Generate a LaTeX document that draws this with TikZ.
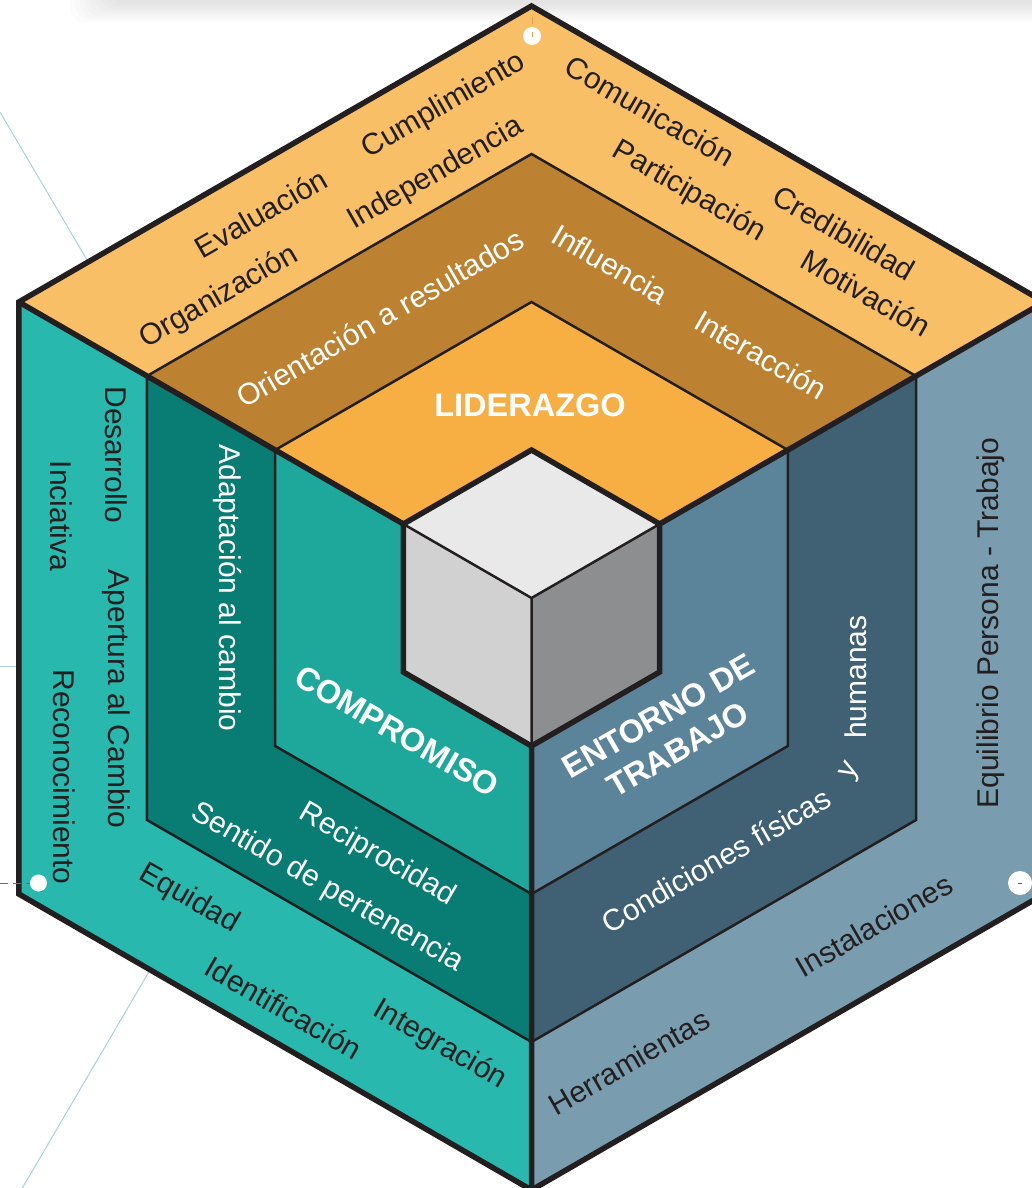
\documentclass[tikz,border=0pt]{standalone}
\usepackage{fontspec}
\setmainfont{Liberation Sans}
\definecolor{ink}{HTML}{231F20}
\definecolor{topA}{HTML}{F9BF67}
\definecolor{topB}{HTML}{BC8232}
\definecolor{topC}{HTML}{F7AE42}
\definecolor{topD}{HTML}{E9E9E9}
\definecolor{leftA}{HTML}{29B8AE}
\definecolor{leftB}{HTML}{097C73}
\definecolor{leftC}{HTML}{1EA89B}
\definecolor{leftD}{HTML}{D1D1D1}
\definecolor{rightA}{HTML}{799DAE}
\definecolor{rightB}{HTML}{406174}
\definecolor{rightC}{HTML}{5B8399}
\definecolor{rightD}{HTML}{8D8E90}
\definecolor{guide}{HTML}{A6D3DF}
\definecolor{dashc}{HTML}{2A8C88}
\definecolor{tick}{HTML}{D9A55A}
\begin{document}
\begin{tikzpicture}[x=1pt,y=-1pt,
  thickln/.style={draw=ink, line width=5.5pt},
  thinln/.style={draw=ink, line width=2.5pt},
  lbl/.style={font=\fontsize{30}{36}\selectfont, text=ink, inner sep=0pt},
  wlbl/.style={lbl, text=white},
  big/.style={font=\fontsize{32.5}{39}\selectfont\bfseries, text=white, inner sep=0pt, align=center},
  dotc/.style={fill=white, draw=none},
  shadowlayer/.style={fill=black, fill opacity=0.011, draw=none, rounded corners=14pt},
  guideline/.style={draw=guide, line width=1pt}]
\useasboundingbox (0,0) rectangle (1032,1188);
\clip (0,0) rectangle (1032,1188);
% soft top shadow
\foreach \i in {0,...,8} {
  \fill[shadowlayer] (70+5*\i,-30) rectangle (1100,22-2.2*\i);
}
% vertices
\coordinate (C) at (531.5,598);
\foreach \k in {1,2,3,4} {
  \pgfmathsetmacro\myL{148*\k}
  \pgfmathsetmacro\myW{128.17*\k}
  \coordinate (T\k) at (531.5,598-\myL);
  \coordinate (UL\k) at (531.5-\myW,598-\myL/2);
  \coordinate (LL\k) at (531.5-\myW,598+\myL/2);
  \coordinate (B\k) at (531.5,598+\myL);
  \coordinate (UR\k) at (531.5+\myW,598-\myL/2);
  \coordinate (LR\k) at (531.5+\myW,598+\myL/2);
}
% guide lines under the figure
\coordinate (g1a) at (0,112); \coordinate (g1b) at (90,265);
\coordinate (g2a) at (0,666); \coordinate (g2b) at (20,666);
\coordinate (g3a) at (150,970); \coordinate (g3b) at (20,1192);
\draw[guideline] (g1a) -- (g1b);
\draw[guideline] (g2a) -- (g2b);
\draw[guideline] (g3a) -- (g3b);
% faces
\foreach \k/\ct/\cl/\cr in {4/topA/leftA/rightA,3/topB/leftB/rightB,2/topC/leftC/rightC,1/topD/leftD/rightD} {
  \fill[\ct] (T\k) -- (UL\k) -- (C) -- (UR\k) -- cycle;
  \fill[\cl] (UL\k) -- (C) -- (B\k) -- (LL\k) -- cycle;
  \fill[\cr] (C) -- (UR\k) -- (LR\k) -- (B\k) -- cycle;
}
% thin lines
\draw[thinln] (UL3) -- (T3) -- (UR3) -- (LR3) -- (B3) -- (LL3) -- cycle;
\draw[thinln] (UL2) -- (T2) -- (UR2) -- (LR2) -- (B2) -- (LL2) -- cycle;
\draw[thinln] (UL1) -- (C) -- (UR1) (C) -- (B1);
% thick lines
\draw[thickln] (UL4) -- (UL1) (UR4) -- (UR1) (B4) -- (B1);
\draw[thickln] (T1) -- (UR1) -- (LR1) -- (B1) -- (LL1) -- (UL1) -- cycle;
\draw[thickln] (T4) -- (UR4) -- (LR4) -- (B4) -- (LL4) -- (UL4) -- cycle;
% top face texts
\node[lbl, rotate=30] (evaluacion) at (261,213) {Evaluación};
\node[lbl, rotate=30] (cumplimiento) at (444,106) {Cumplimiento};
\node[lbl, rotate=30] (organizacion) at (219,297) {Organización};
\node[lbl, rotate=30] (independencia) at (436,174) {Independencia};
\node[wlbl, rotate=30] (orientacion) at (380,318) {Orientación a resultados};
\node[lbl, rotate=-30] (comunicacion) at (650,111) {Comunicación};
\node[lbl, rotate=-30] (participacion) at (689,192) {Participación};
\node[lbl, rotate=-30] (credibilidad) at (844,233) {Credibilidad};
\node[lbl, rotate=-30] (motivacion) at (866,293) {Motivación};
\node[wlbl, rotate=-30] (influencia) at (610,264) {Influencia};
\node[wlbl, rotate=-30] (interaccion) at (761,355) {Interacción};
\node[big] (liderazgo) at (530,405) {LIDERAZGO};
% left face texts
\node[lbl, rotate=-90] (desarrollo) at (116,455) {Desarrollo};
\node[lbl, rotate=-90] (inciativa) at (61.5,516) {Inciativa};
\node[lbl, rotate=-90] (apertura) at (116,699) {Apertura al Cambio};
\node[lbl, rotate=-90] (reconocimiento) at (64,777) {Reconocimiento};
\node[wlbl, rotate=-90] (adaptacion) at (227,588) {Adaptación al cambio};
\node[big, rotate=-30] (compromiso) at (397,731) {COMPROMISO};
\node[wlbl, rotate=-30] (reciprocidad) at (377,855) {Reciprocidad};
\node[wlbl, rotate=-30] (sentido) at (327,888) {Sentido de pertenencia};
\node[lbl, rotate=-30] (equidad) at (189,899) {Equidad};
\node[lbl, rotate=-30] (identificacion) at (284,1008) {Identificación};
\node[lbl, rotate=-30] (integracion) at (440,1045) {Integración};
% right face texts
\node[big, rotate=30] (entorno) at (668,733) {ENTORNO DE\\TRABAJO};
\node[wlbl, rotate=30] (condiciones) at (716,860) {Condiciones físicas};
\node[wlbl, rotate=60] (yconj) at (851,772) {y};
\node[wlbl, rotate=90] (humanas) at (856,677) {humanas};
\node[lbl, rotate=90] (equilibrio) at (991,623) {Equilibrio Persona - Trabajo};
\node[lbl, rotate=30] (herramientas) at (629,1062) {Herramientas};
\node[lbl, rotate=30] (instalaciones) at (874,925) {Instalaciones};
% handles
\coordinate (d3a) at (0,883); \coordinate (d3b) at (38,883);
\draw[dashc, line width=1pt, dash pattern=on 8pt off 5pt] (d3a) -- (d3b);
\coordinate (tka) at (532,17); \coordinate (tkb) at (532,24);
\draw[tick, line width=1pt] (tka) -- (tkb);
\fill[dotc] (532,36) circle (9);
\fill[dotc] (38.5,883) circle (8.5);
\fill[dotc] (1020,883) circle (12);
\coordinate (tkc) at (532,32); \coordinate (tkd) at (532,37);
\draw[tick, line width=0.8pt] (tkc) -- (tkd);
\coordinate (tke) at (1018,883); \coordinate (tkf) at (1022,883);
\draw[rightB, line width=1pt] (tke) -- (tkf);
\end{tikzpicture}
\end{document}
